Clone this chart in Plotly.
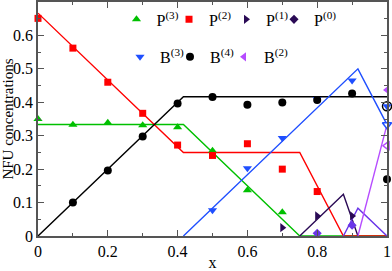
import plotly.graph_objects as go

# ---------------- data ----------------
# simulation points
p3_x = [0, 0.1, 0.2, 0.3, 0.4, 0.5, 0.6, 0.7]
p3_y = [0.35, 0.333, 0.339, 0.331, 0.325, 0.255, 0.137, 0.071]
p2_x = [0, 0.1, 0.2, 0.3, 0.4, 0.5, 0.6, 0.7, 0.8]
p2_y = [0.651, 0.562, 0.46, 0.367, 0.272, 0.241, 0.276, 0.2, 0.133]
p1_x = [0.7, 0.8, 0.9]
p1_y = [0.025, 0.06, 0.06]
p0_x = [0.8, 0.9]
p0_y = [0.008, 0.032]
b3_x = [0.5, 0.6, 0.7, 0.8, 0.9, 1.0]
b3_y = [0.077, 0.203, 0.293, 0.41, 0.465, 0.388]
b4_x = [0.1, 0.2, 0.3, 0.4, 0.5, 0.6, 0.7, 0.8, 0.9, 1.0]
b4_y = [0.1, 0.196, 0.298, 0.396, 0.416, 0.393, 0.399, 0.407, 0.426, 0.17]
b2_x = [1.0]
b2_y = [0.437]
# open markers at x = 1
b3_open_x = [1.0]
b3_open_y = [0.333]
b2_open_x = [1.0]
b2_open_y = [0.27]
b4_open_x = [1.0]
b4_open_y = [0.388]

# theory curves (breakpoints)
p2_line_x = [0, 5/12, 0.75, 0.875, 1.0]
p2_line_y = [2/3, 0.25, 0.25, 0.0, 0.0]
p3_line_x = [0, 5/12, 0.75, 1.0]
p3_line_y = [1/3, 1/3, 0.0, 0.0]
b4_line_x = [0, 5/12, 1.0]
b4_line_y = [0, 5/12, 5/12]
b3_line_x = [5/12, 11/12, 1.0]
b3_line_y = [0.0, 0.5, 1/3]
p1_line_x = [0.75, 0.875, 11/12]
p1_line_y = [0.0, 0.125, 0.0]
p0_line_x = [0.875, 11/12, 1.0]
p0_line_y = [0.0, 1/12, 0.0]
b2_line_x = [11/12, 1.0]
b2_line_y = [0.0, 1/3]

# ---------------- styles ----------------
GREEN = "#00c000"
RED = "#ff0000"
DARK = "#2a0a55"
VIOLET = "#6a35e8"
BLUE = "#1f4fff"
BLACK = "#000000"
MAGENTA = "#b64cff"

fig = go.Figure()

def line(xs, ys, color):
    fig.add_trace(go.Scatter(x=xs, y=ys, mode="lines", line=dict(color=color, width=1.4),
                             showlegend=False, hoverinfo="skip"))

line(p3_line_x, p3_line_y, GREEN)
line(p2_line_x, p2_line_y, RED)
line(b4_line_x, b4_line_y, BLACK)
line(b3_line_x, b3_line_y, BLUE)
line(p1_line_x, p1_line_y, DARK)
line(p0_line_x, p0_line_y, VIOLET)
line(b2_line_x, b2_line_y, MAGENTA)

def pts(xs, ys, color, symbol, name, legend="legend", size=8, show=True, open_=False):
    fig.add_trace(go.Scatter(
        x=xs, y=ys, mode="markers", name=name, legend=legend, showlegend=show,
        marker=dict(color="white" if open_ else color, symbol=symbol, size=size,
                    line=dict(color=color, width=1.5 if open_ else 0)),
        cliponaxis=False))

pts(p0_x, p0_y, VIOLET, "diamond", "P0pts", size=7, show=False)
pts(b4_open_x, b4_open_y, BLACK, "circle", "B4open", size=9, show=False, open_=True)
pts(b3_open_x, b3_open_y, BLUE, "triangle-down", "B3open", show=False, open_=True)
pts(b2_open_x, b2_open_y, MAGENTA, "triangle-left", "B2open", show=False, open_=True)

# legend row 1
pts(p3_x, p3_y, GREEN, "triangle-up", "P<sup>(3)</sup>", "legend")
pts(p2_x, p2_y, RED, "square", "P<sup>(2)</sup>", "legend2", size=7)
pts(p1_x, p1_y, DARK, "triangle-right", "P<sup>(1)</sup>", "legend3")
pts([None], [None], DARK, "diamond", "P<sup>(0)</sup>", "legend4", size=7)
# legend row 2
pts(b3_x, b3_y, BLUE, "triangle-down", "B<sup>(3)</sup>", "legend5")
pts(b4_x, b4_y, BLACK, "circle", "B<sup>(4)</sup>", "legend6")
pts(b2_x, b2_y, MAGENTA, "triangle-left", "B<sup>(2)</sup>", "legend7")

FONT = "Liberation Serif"
axis_common = dict(
    showline=True, linecolor="#555555", linewidth=1.5, mirror="ticks",
    ticks="inside", ticklen=6, tickwidth=1, tickcolor="#555555",
    showgrid=False, zeroline=False,
    tickfont=dict(family=FONT, size=16, color="black"),
)

def leg(x, y):
    return dict(orientation="h", x=x, y=y, xanchor="left", yanchor="top",
                bgcolor="rgba(0,0,0,0)", font=dict(family=FONT, size=16, color="black"),
                itemwidth=30)

ROW1 = 0.998
ROW2 = 0.838
fig.update_layout(
    width=392, height=271,
    margin=dict(l=38, r=5, t=0, b=27),
    paper_bgcolor="white", plot_bgcolor="white",
    xaxis=dict(range=[0, 1], dtick=0.2, tick0=0,
               minor=dict(dtick=0.1, ticks="inside", ticklen=3, tickcolor="#555555"),
               title=dict(text="x", font=dict(family=FONT, size=16, color="black"), standoff=0),
               **axis_common),
    yaxis=dict(range=[0, 0.7], dtick=0.1, tick0=0,
               minor=dict(dtick=0.05, ticks="inside", ticklen=3, tickcolor="#555555"),
               title=dict(text="NFU concentrations", font=dict(family=FONT, size=15, color="black"), standoff=2),
               **axis_common),
    legend=leg(0.2249, ROW1),
    legend2=leg(0.3754, ROW1),
    legend3=leg(0.5387, ROW1),
    legend4=leg(0.6762, ROW1),
    legend5=leg(0.2350, ROW2),
    legend6=leg(0.3782, ROW2),
    legend7=leg(0.5330, ROW2),
    showlegend=True,
)

fig.write_html("out.html", post_script="document.body.style.margin='0';",
               config={"displayModeBar": False})
